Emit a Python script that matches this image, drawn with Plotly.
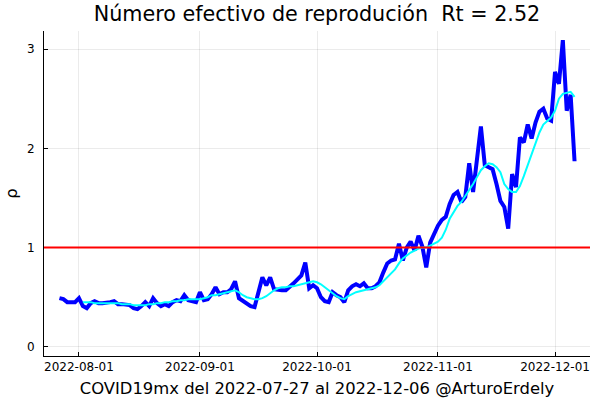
import pandas as pd
import plotly.graph_objects as go

start_date = "2022-07-27"
end_date = "2022-12-06"

# Daily effective reproduction number (blue)
rt_daily = [
    0.49, 0.48, 0.45, 0.45, 0.45, 0.49, 0.41, 0.39, 0.44, 0.46,
    0.44, 0.44, 0.44, 0.45, 0.46, 0.43, 0.43, 0.43, 0.42, 0.39,
    0.38, 0.41, 0.45, 0.41, 0.49, 0.44, 0.41, 0.43, 0.41, 0.45,
    0.47, 0.46, 0.52, 0.47, 0.46, 0.45, 0.55, 0.47, 0.48, 0.53,
    0.60, 0.53, 0.55, 0.55, 0.58, 0.66, 0.49, 0.46, 0.43, 0.41,
    0.40, 0.55, 0.70, 0.62, 0.70, 0.58, 0.57, 0.57, 0.57, 0.60,
    0.64, 0.68, 0.72, 0.85, 0.59, 0.62, 0.59, 0.50, 0.46, 0.45,
    0.55, 0.52, 0.50, 0.45, 0.57, 0.61, 0.63, 0.61, 0.64, 0.59,
    0.59, 0.61, 0.65, 0.75, 0.84, 0.87, 0.88, 1.04, 0.87, 1.00,
    1.06, 0.97, 1.12, 1.01, 0.80, 1.05, 1.14, 1.22, 1.28, 1.31,
    1.44, 1.53, 1.56, 1.46, 1.51, 1.85, 1.56, 1.88, 2.22, 1.83,
    1.81, 1.79, 1.64, 1.47, 1.41, 1.19, 1.74, 1.61, 2.11, 2.06,
    2.24, 2.10, 2.26, 2.37, 2.40, 2.30, 2.28, 2.77, 2.65, 3.09,
    2.38, 2.54, 1.87,
]

# Smoothed Rt (cyan), starts on the 7th day
rt_smooth_offset = 6
rt_smooth = [
    0.45, 0.45, 0.45, 0.44, 0.44, 0.44, 0.44, 0.44, 0.44, 0.44,
    0.43, 0.43, 0.43, 0.42, 0.42, 0.42, 0.42, 0.43, 0.43, 0.44,
    0.44, 0.45, 0.45, 0.46, 0.46, 0.47, 0.47, 0.48, 0.48, 0.48,
    0.48, 0.49, 0.50, 0.52, 0.52, 0.53, 0.54, 0.55, 0.56, 0.57,
    0.55, 0.52, 0.50, 0.49, 0.48, 0.48, 0.49, 0.51, 0.54, 0.57,
    0.59, 0.60, 0.60, 0.61, 0.61, 0.62, 0.63, 0.64, 0.65, 0.66,
    0.65, 0.63, 0.60, 0.57, 0.54, 0.51, 0.49, 0.48, 0.51, 0.53,
    0.55, 0.56, 0.57, 0.58, 0.59, 0.60, 0.62, 0.66, 0.70, 0.74,
    0.78, 0.84, 0.89, 0.92, 0.95, 0.97, 0.99, 1.00, 1.00, 1.02,
    1.04, 1.06, 1.10, 1.18, 1.29, 1.36, 1.42, 1.46, 1.52, 1.57,
    1.64, 1.71, 1.78, 1.82, 1.85, 1.84, 1.81, 1.76, 1.64, 1.59,
    1.56, 1.56, 1.62, 1.72, 1.83, 1.93, 2.04, 2.16, 2.24, 2.28,
    2.31, 2.38, 2.50, 2.55, 2.56, 2.57, 2.52,
]

threshold = 1.0
y_ticks = [0, 1, 2, 3]
x_ticks = ["2022-08-01", "2022-09-01", "2022-10-01", "2022-11-01", "2022-12-01"]

dates = pd.date_range(start_date, periods=len(rt_daily), freq="D")
smooth_dates = dates[rt_smooth_offset:rt_smooth_offset + len(rt_smooth)]

title_text = f"Número efectivo de reprodución  Rt = {rt_smooth[-1]:.2f}"
xlabel = f"COVID19mx del {start_date} al {end_date} @ArturoErdely"

# axis limits widened 3% like Plots.jl
span = dates[-1] - dates[0]
x_lo = dates[0] - span * 0.03
x_hi = dates[-1] + span * 0.03
ymax = max(rt_daily)
y_lo = 0 - ymax * 0.03
y_hi = ymax + ymax * 0.03

font = "DejaVu Sans"

fig = go.Figure()
fig.add_trace(go.Scatter(x=dates, y=rt_daily, mode="lines",
                         line=dict(color="#0000ff", width=4), showlegend=False))
fig.add_trace(go.Scatter(x=smooth_dates, y=rt_smooth, mode="lines",
                         line=dict(color="#00ffff", width=2), showlegend=False))
fig.add_hline(y=threshold, line=dict(color="#ff0000", width=2), layer="above")

fig.update_layout(
    width=600, height=400,
    margin=dict(l=44, r=10, t=31, b=44, autoexpand=False),
    paper_bgcolor="white", plot_bgcolor="white",
    font=dict(family=font, color="black"),
    title=dict(text=title_text, x=0.5, xref="paper", xanchor="center",
               y=1 - 14 / 400, yref="container", yanchor="middle",
               font=dict(size=20.7, family=font, color="black")),
    showlegend=False,
)
fig.update_xaxes(
    range=[x_lo, x_hi], tickvals=pd.to_datetime(x_ticks), ticktext=x_ticks,
    showgrid=True, gridcolor="rgba(0,0,0,0.08)", gridwidth=1,
    showline=True, linecolor="black", linewidth=1, mirror=False,
    ticks="inside", ticklen=4, tickcolor="black",
    tickfont=dict(size=12, family=font, color="black"),
    zeroline=False,
    title=dict(text=xlabel, font=dict(size=16.4, family=font, color="black"), standoff=9),
)
fig.update_yaxes(
    range=[y_lo, y_hi], tickvals=y_ticks,
    showgrid=True, gridcolor="rgba(0,0,0,0.08)", gridwidth=1,
    showline=True, linecolor="black", linewidth=1, mirror=False,
    ticks="inside", ticklen=4, tickcolor="black", ticklabelstandoff=6,
    tickfont=dict(size=12, family=font, color="black"),
    zeroline=False,
    title=dict(text="ρ", font=dict(size=16.4, family=font, color="black"), standoff=5),
)

fig.write_html("out.html", config={"displayModeBar": False},
               post_script="document.body.style.margin='0';")
